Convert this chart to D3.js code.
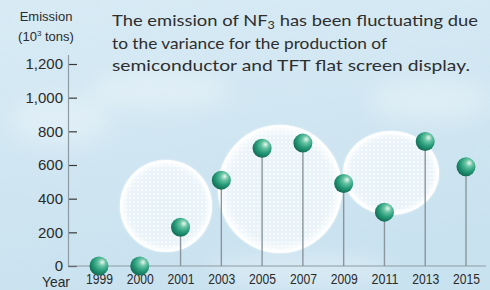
<!DOCTYPE html>
<html>
<head>
<meta charset="utf-8">
<script src="https://cdn.jsdelivr.net/npm/d3@7"></script>
<style>
  body { margin: 0; background: #d2e8f3; }
  svg { display: block; font-family: "Liberation Sans", Arial, sans-serif; }
</style>
</head>
<body>
<svg id="chart"></svg>
<script>
// data
const years = ['1999', '2000', '2001', '2003', '2005', '2007', '2009', '2011', '2013', '2015'];
const emissions = [0, 0, 230, 510, 700, 730, 490, 320, 740, 590];
const yTicks = [0, 200, 400, 600, 800, 1000, 1200];
const noteLines = [
  ['The emission of NF', '3', ' has been fluctuating due'],
  ['to the variance for the production of'],
  ['semiconductor and TFT flat screen display.']
];

const width = 490, height = 290;

const svg = d3.select('#chart')
    .attr('width', width)
    .attr('height', height);

const defs = svg.append('defs');

// background gradient
const bg = defs.append('linearGradient').attr('id', 'bg')
    .attr('x1', 0).attr('y1', 0).attr('x2', 0.3).attr('y2', 1);
bg.append('stop').attr('offset', '0%').attr('stop-color', '#d8ebf5');
bg.append('stop').attr('offset', '100%').attr('stop-color', '#c9e2ef');

const blur = defs.append('filter').attr('id', 'soft')
    .attr('x', '-50%').attr('y', '-50%').attr('width', '200%').attr('height', '200%');
blur.append('feGaussianBlur').attr('stdDeviation', 10);

const edgeBlur = defs.append('filter').attr('id', 'edge')
    .attr('x', '-20%').attr('y', '-20%').attr('width', '140%').attr('height', '140%');
edgeBlur.append('feGaussianBlur').attr('stdDeviation', 1.2);

// dotted grid inside the bubbles
const pat = defs.append('pattern').attr('id', 'dots')
    .attr('patternUnits', 'userSpaceOnUse')
    .attr('width', 4).attr('height', 4);
pat.append('rect').attr('width', 4).attr('height', 4).attr('fill', '#ffffff').attr('opacity', 0.5);
pat.append('rect').attr('x', 1).attr('y', 1).attr('width', 2).attr('height', 2).attr('fill', '#ffffff');

const glow = defs.append('radialGradient').attr('id', 'glow');
glow.append('stop').attr('offset', '0%').attr('stop-color', '#ffffff').attr('stop-opacity', 0.15);
glow.append('stop').attr('offset', '82%').attr('stop-color', '#ffffff').attr('stop-opacity', 0.3);
glow.append('stop').attr('offset', '100%').attr('stop-color', '#ffffff').attr('stop-opacity', 0.9);

// ball shading
const ball = defs.append('radialGradient').attr('id', 'ball')
    .attr('cx', '62%').attr('cy', '35%').attr('r', '70%')
    .attr('fx', '68%').attr('fy', '30%');
ball.append('stop').attr('offset', '0%').attr('stop-color', '#eaf8f2');
ball.append('stop').attr('offset', '28%').attr('stop-color', '#68c3a3');
ball.append('stop').attr('offset', '62%').attr('stop-color', '#259a78');
ball.append('stop').attr('offset', '100%').attr('stop-color', '#10664f');

svg.append('rect').attr('width', width).attr('height', height).attr('fill', 'url(#bg)');

// a few soft clouds
const clouds = svg.append('g').attr('filter', 'url(#soft)').attr('fill', '#ffffff').attr('opacity', 0.3);
clouds.append('ellipse').attr('cx', 60).attr('cy', 120).attr('rx', 50).attr('ry', 25);
clouds.append('ellipse').attr('cx', 160).attr('cy', 90).attr('rx', 70).attr('ry', 20);
clouds.append('ellipse').attr('cx', 430).attr('cy', 100).attr('rx', 60).attr('ry', 22);
clouds.append('ellipse').attr('cx', 300).attr('cy', 270).attr('rx', 90).attr('ry', 15);

// translucent dotted bubbles
const bubbles = [
  {cx: 166, cy: 206, rx: 46, ry: 46},
  {cx: 280, cy: 189, rx: 62, ry: 64},
  {cx: 391, cy: 173, rx: 48, ry: 42}
];
const bubbleG = svg.append('g');
bubbles.forEach(b => {
  bubbleG.append('ellipse').attr('cx', b.cx).attr('cy', b.cy).attr('rx', b.rx).attr('ry', b.ry)
      .attr('fill', 'url(#dots)').attr('opacity', 0.8);
  bubbleG.append('ellipse').attr('cx', b.cx).attr('cy', b.cy).attr('rx', b.rx).attr('ry', b.ry)
      .attr('fill', 'url(#glow)');
  bubbleG.append('ellipse').attr('cx', b.cx).attr('cy', b.cy).attr('rx', b.rx - 1.5).attr('ry', b.ry - 1.5)
      .attr('fill', 'none').attr('stroke', '#ffffff').attr('stroke-width', 2.5)
      .attr('opacity', 0.9).attr('filter', 'url(#edge)');
});

// scales
const x = d3.scalePoint().domain(years).range([99, 466]);
const y = d3.scaleLinear().domain([0, 1200]).range([266, 64]);

// y axis
const yAxisG = svg.append('g').attr('transform', 'translate(68,0)')
    .call(d3.axisRight(y).tickValues(yTicks).tickSize(9).tickFormat(d3.format(',')))
    .attr('font-size', 15)
    .attr('font-family', '"Liberation Sans", Arial, sans-serif');
yAxisG.select('.domain').remove();
yAxisG.selectAll('.tick line').attr('stroke', '#3a3a3a').attr('stroke-width', 1.2);
yAxisG.selectAll('.tick text')
    .attr('x', -5).attr('text-anchor', 'end')
    .attr('fill', '#2b2b2b')
    .style('font-size', '15px');

svg.append('line')
    .attr('x1', 68.5).attr('x2', 68.5).attr('y1', 55).attr('y2', y(0))
    .attr('stroke', '#8d9ca4').attr('stroke-width', 1.2);

// baseline + x axis labels
svg.append('line')
    .attr('x1', 68).attr('x2', 486).attr('y1', y(0)).attr('y2', y(0))
    .attr('stroke', '#8d9ca4').attr('stroke-width', 1.2);

const xAxisG = svg.append('g').attr('transform', `translate(0,${y(0)})`)
    .call(d3.axisBottom(x).tickSize(0).tickPadding(8))
    .attr('font-size', 14.5)
    .attr('font-family', '"Liberation Sans", Arial, sans-serif');
xAxisG.select('.domain').remove();
xAxisG.selectAll('.tick text')
    .attr('fill', '#2b2b2b')
    .style('font-size', '14.5px')
    .attr('textLength', 27).attr('lengthAdjust', 'spacingAndGlyphs');

svg.append('text')
    .attr('x', 56).attr('y', 287).attr('text-anchor', 'middle')
    .attr('fill', '#2b2b2b').style('font-size', '14.5px')
    .attr('textLength', 28).attr('lengthAdjust', 'spacingAndGlyphs')
    .text('Year');

// unit label
svg.append('text').attr('x', 46).attr('y', 21).attr('text-anchor', 'middle')
    .attr('fill', '#2b2b2b').attr('font-size', 13).text('Emission');
const unit = svg.append('text').attr('x', 46).attr('y', 41).attr('text-anchor', 'middle')
    .attr('fill', '#2b2b2b').attr('font-size', 13);
unit.append('tspan').text('(10');
unit.append('tspan').attr('font-size', 8).attr('dy', -5).text('3');
unit.append('tspan').attr('dy', 5).text(' tons)');

// stems and balls
const data = years.map((yr, i) => ({year: yr, value: emissions[i]}));

svg.append('g').selectAll('line')
    .data(data.filter(d => d.value > 0))
  .join('line')
    .attr('x1', d => x(d.year)).attr('x2', d => x(d.year))
    .attr('y1', d => y(d.value)).attr('y2', y(0))
    .attr('stroke', '#8a969c').attr('stroke-width', 1.4);

svg.append('g').selectAll('circle')
    .data(data)
  .join('circle')
    .attr('cx', d => x(d.year))
    .attr('cy', d => y(d.value))
    .attr('r', 9.5)
    .attr('fill', 'url(#ball)');

// annotation
const note = svg.append('g').attr('fill', '#2e2e2e').attr('font-size', 16)
    .attr('font-family', 'Lato, "Noto Sans", sans-serif');
const noteWidths = [366, 275, 358];
noteLines.forEach((parts, i) => {
  const t = note.append('text').attr('x', 112).attr('y', 26 + i * 22.5);
  t.attr('textLength', noteWidths[i]).attr('lengthAdjust', 'spacingAndGlyphs');
  if (parts.length === 1) {
    t.text(parts[0]);
  } else {
    t.append('tspan').text(parts[0]);
    t.append('tspan').attr('font-size', 11).attr('dy', 3).text(parts[1]);
    t.append('tspan').attr('dy', -3).text(parts[2]);
  }
});
</script>
</body>
</html>
